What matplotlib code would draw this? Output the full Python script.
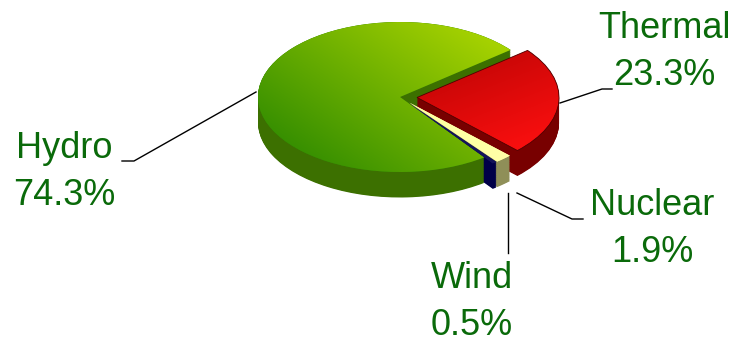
import numpy as np
import matplotlib
matplotlib.use('Agg')
import matplotlib.pyplot as plt
from matplotlib.colors import to_rgb

# data
sources = ['Thermal', 'Hydro', 'Wind', 'Nuclear']
shares = [23.3, 74.3, 0.5, 1.9]
explode = [0.12, 0.0, 0.1, 0.1]

top_from = ['#a30000', '#2e8a00', '#14145a', '#ffff99']
top_to = ['#ff1010', '#a6d200', '#14145a', '#ffffa8']
side_colors = ['#780000', '#3c7000', '#000048', '#8f8f58']
text_color = '#0a6a0a'

W, H = 736, 345
fig = plt.figure(figsize=(W / 100, H / 100), dpi=100)

# pixel-coordinate axes for labels and leader lines
ax = fig.add_axes([0, 0, 1, 1])
ax.set_xlim(0, W)
ax.set_ylim(H, 0)
ax.axis('off')

# pie axes squashed to an ellipse: 1 unit = 142 px wide, 75 px tall
cx, cy, rx, ry = 400, 97, 142, 75
xl, yb, yt = 1.6, -1.6, 1.25
pax = fig.add_axes([(cx - xl * rx) / W, (H - cy + yb * ry) / H,
                    2 * xl * rx / W, (yt - yb) * ry / H])
pax.set_zorder(0)
ax.set_zorder(1)
ax.patch.set_alpha(0)

depth = 0.34
start = -45
for d in np.linspace(depth, 0.005, 40):
    pax.pie(shares, explode=explode, startangle=start, colors=side_colors,
            center=(0, -d), wedgeprops=dict(linewidth=0, antialiased=True))

wedges, _ = pax.pie(shares, explode=explode, startangle=start,
                    colors=top_from, wedgeprops=dict(linewidth=0))

# gradient fill on top faces
gx, gy = np.meshgrid(np.linspace(-xl, xl, 300), np.linspace(yt, yb, 300))
directions = [(0.6, -0.8), (0.8, 0.6), (1, 0), (1, 0)]
for w, c0, c1, (dx, dy) in zip(wedges, top_from, top_to, directions):
    t = gx * dx + gy * dy
    t = (t - t.min()) / (t.max() - t.min())
    t = np.clip((t - 0.25) / 0.5, 0, 1)[..., None]
    img = (1 - t) * np.array(to_rgb(c0)) + t * np.array(to_rgb(c1))
    im = pax.imshow(img, extent=(-xl, xl, yb, yt), aspect='auto', zorder=3)
    im.set_clip_path(w)
wedges[0].set_edgecolor('#500000')
wedges[0].set_linewidth(0.6)
wedges[0].set_zorder(4)
wedges[0].set_facecolor('none')

pax.set_xlim(-xl, xl)
pax.set_ylim(yb, yt)
pax.set_aspect('auto')
pax.axis('off')

# labels
label_pos = {'Thermal': (664, 52), 'Hydro': (64, 172),
             'Nuclear': (652, 229), 'Wind': (472, 302)}
for name, val in zip(sources, shares):
    x, y = label_pos[name]
    ax.text(x, y, f'{name}\n{val}%', ha='center', va='center',
            multialignment='center', color=text_color, fontsize=26,
            linespacing=1.45, family=['Liberation Sans', 'DejaVu Sans'])

leaders = [([122, 134, 256], [161, 161, 92]),
           ([560, 602, 612], [103, 89, 89]),
           ([517, 572, 583], [193, 219, 219]),
           ([508, 508], [193, 253])]
for xs, ys in leaders:
    ax.plot(xs, ys, color='black', lw=1)

fig.savefig('out.png', dpi=100)
